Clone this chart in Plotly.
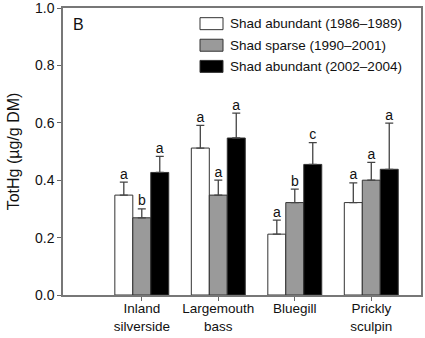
import plotly.graph_objects as go

categories = ["Inland<br>silverside", "Largemouth<br>bass", "Bluegill", "Prickly<br>sculpin"]
series_names = ["Shad abundant (1986\u20131989)", "Shad sparse (1990\u20132001)", "Shad abundant (2002\u20132004)"]
means_1986 = [0.348, 0.512, 0.212, 0.322]
means_1990 = [0.269, 0.348, 0.322, 0.400]
means_2002 = [0.427, 0.547, 0.455, 0.438]
err_1986 = [0.045, 0.079, 0.049, 0.069]
err_1990 = [0.031, 0.052, 0.047, 0.062]
err_2002 = [0.056, 0.087, 0.076, 0.161]
letters_1986 = ["a", "a", "a", "a"]
letters_1990 = ["b", "a", "b", "a"]
letters_2002 = ["a", "a", "c", "a"]
yticks = [0.0, 0.2, 0.4, 0.6, 0.8, 1.0]

colors = ["#ffffff", "#9a9a9a", "#000000"]
bar_w = 0.235
offsets = [-1.5 * bar_w, -0.5 * bar_w, 0.5 * bar_w]
xpos = [1, 2, 3, 4]
FONT = "Liberation Sans, Arial, sans-serif"

fig = go.Figure()
all_means = [means_1986, means_1990, means_2002]
all_errs = [err_1986, err_1990, err_2002]
all_letters = [letters_1986, letters_1990, letters_2002]
for i in range(3):
    fig.add_trace(go.Bar(
        x=xpos, y=all_means[i], width=bar_w, offset=offsets[i],
        marker=dict(color=colors[i], line=dict(color="#333333", width=1)),
        error_y=dict(type="data", array=all_errs[i], arrayminus=[0] * 4, symmetric=False,
                     color="#444444", thickness=1.3, width=4),
        name=series_names[i], showlegend=False,
    ))
    fig.add_trace(go.Scatter(
        x=[p + offsets[i] + bar_w / 2 for p in xpos],
        y=[m + e for m, e in zip(all_means[i], all_errs[i])],
        mode="text", text=all_letters[i], textposition="top center",
        textfont=dict(family=FONT, size=14, color="#111111"),
        showlegend=False, hoverinfo="skip", cliponaxis=False,
    ))

# manual legend
L = 63.0
W = 358.0
T = 7.5
H = 287.5
def px_x(p):
    return (p - L) / W
def px_y(p):
    return (T + H - p) / H
rows = [23.2, 44.8, 66.0]
for i, cy in enumerate(rows):
    fig.add_shape(type="rect", xref="paper", yref="paper",
                  x0=px_x(200), x1=px_x(223), y0=px_y(cy + 6), y1=px_y(cy - 6),
                  fillcolor=colors[i], line=dict(color="#333333", width=1))
    fig.add_annotation(xref="paper", yref="paper", x=px_x(228), y=px_y(cy),
                       text=series_names[i], showarrow=False, xanchor="left", yanchor="middle",
                       font=dict(family=FONT, size=13.5, color="#111111"))

fig.add_annotation(xref="paper", yref="paper", x=px_x(71), y=px_y(24),
                   text="B", showarrow=False, xanchor="left", yanchor="middle",
                   font=dict(family=FONT, size=16, color="#111111"))

fig.update_layout(
    width=425, height=338,
    margin=dict(l=63, r=4, t=7.5, b=43),
    plot_bgcolor="white", paper_bgcolor="white",
    barmode="overlay",
    font=dict(family=FONT, size=14, color="#111111"),
    xaxis=dict(range=[-0.03, 4.65], tickvals=xpos, ticktext=categories,
               ticks="outside", ticklen=4, tickcolor="#666666", tickwidth=1,
               showline=True, linecolor="#777777", linewidth=1.5, mirror=True,
               showgrid=False, zeroline=False, automargin=False,
               ticklabelstandoff=-4,
               tickfont=dict(family=FONT, size=13.5, color="#111111")),
    yaxis=dict(range=[0, 1.0], tickvals=yticks, ticktext=[f"{v:.1f}" for v in yticks],
               ticks="outside", ticklen=4, tickcolor="#666666", tickwidth=1,
               showline=True, linecolor="#777777", linewidth=1.5, mirror=True,
               showgrid=False, zeroline=False, automargin=False,
               ticklabeloverflow="allow",
               title=dict(text="TotHg (\u00b5g/g DM)", font=dict(family=FONT, size=16, color="#111111"), standoff=11),
               tickfont=dict(family=FONT, size=14, color="#111111")),
)

fig.write_html("out.html", config={"displayModeBar": False},
               post_script="document.body.style.margin='0';")
